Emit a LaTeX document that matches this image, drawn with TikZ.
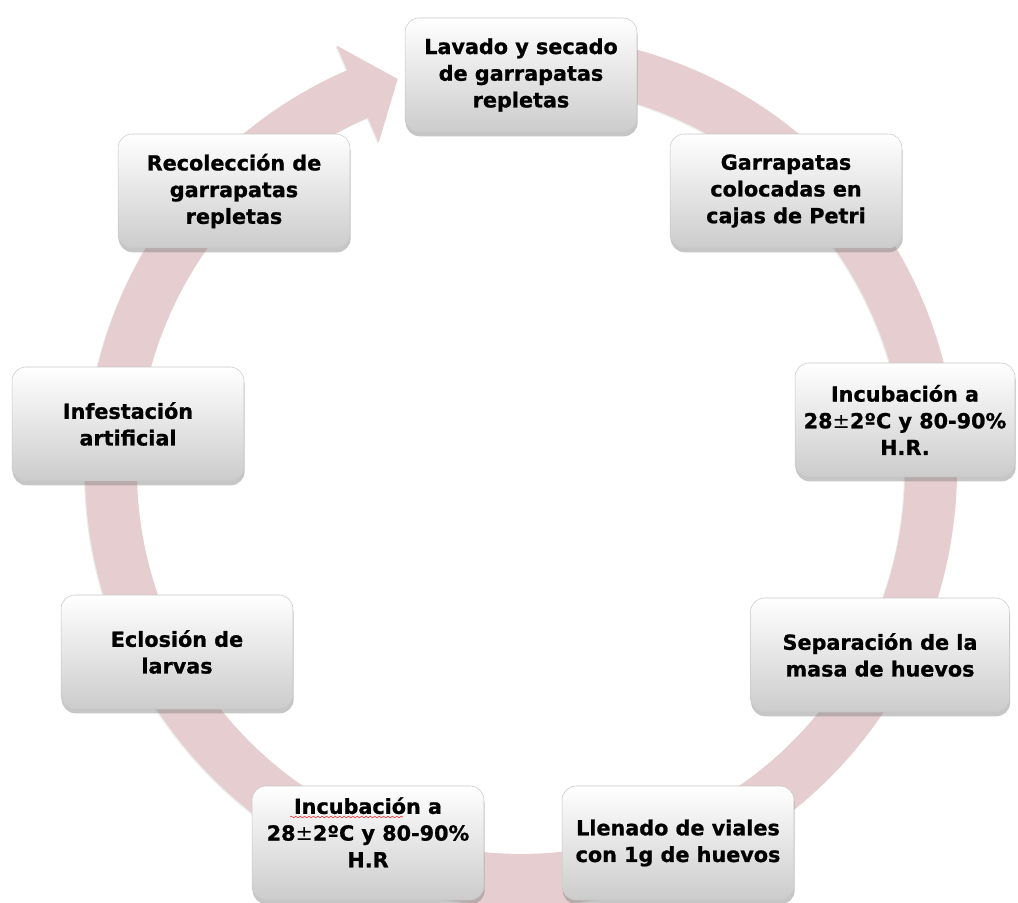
\documentclass[tikz,border=0pt]{standalone}
\usepackage{fontspec}
\setmainfont{DejaVu Sans}[BoldFeatures={FakeBold=1}]
\usetikzlibrary{shadows,decorations.pathmorphing}

\definecolor{ringpink}{RGB}{230,205,207}

\begin{document}
\begin{tikzpicture}[x=0.02cm,y=0.02cm,
  stage/.style={rectangle,rounded corners=0.28cm,draw=black!22,line width=0.3pt,
    top color=white,bottom color=black!20,
    drop shadow={shadow xshift=0.4pt,shadow yshift=-2.5pt,opacity=0.45},
    minimum width=4.64cm,minimum height=2.28cm,align=center,inner sep=2pt,
    font=\fontsize{11.8}{15.2}\selectfont\bfseries}]

  \useasboundingbox (0,0) rectangle (1018,903);

  % the circular arrow behind the stages
  \begin{scope}[shift={(521,433)}]
    \fill[ringpink,drop shadow={shadow xshift=-0.6pt,shadow yshift=-0.6pt,opacity=0.15}]
      (80:436) arc[start angle=80,end angle=-246.5,radius=8.72cm]
      -- (-246.5:463) -- (-252.5:410) -- (-246.5:357) -- (-246.5:384)
      arc[start angle=-246.5,end angle=80,radius=7.68cm] -- cycle;
  \end{scope}

  \node[stage] (lavado) at (521,828) {Lavado y secado\\de garrapatas\\repletas};
  \node[stage] (petri) at (786,712) {Garrapatas\\colocadas en\\cajas de Petri};
  \node[stage,minimum width=4.4cm] (incub1) at (905,483)
    {Incubación a\\28{\mdseries ±}2ºC y 80-90\%\\H.R.};
  \node[stage,minimum width=5.18cm] (separa) at (880,248)
    {Separación de la\\masa de huevos};
  \node[stage] (viales) at (678,60) {Llenado de viales\\con 1g de huevos};
  \node[stage] (incub2) at (368,60) {Incubación a\\28{\mdseries ±}2ºC y 80-90\%\\H.R\\[-3pt]};
  \node[stage] (eclosion) at (177,251) {Eclosión de\\larvas};
  \node[stage] (infesta) at (128,479) {Infestación\\artificial};
  \node[stage] (recolecta) at (234,712) {Recolección de\\garrapatas\\repletas};

  % spell-check mark under the first word
  \draw[red!80,line width=0.35pt,decorate,
    decoration={snake,amplitude=0.45pt,segment length=2.5pt}]
    ([xshift=-1.56cm,yshift=0.52cm]incub2.center) -- ([xshift=0.7cm,yshift=0.52cm]incub2.center);
\end{tikzpicture}
\end{document}
